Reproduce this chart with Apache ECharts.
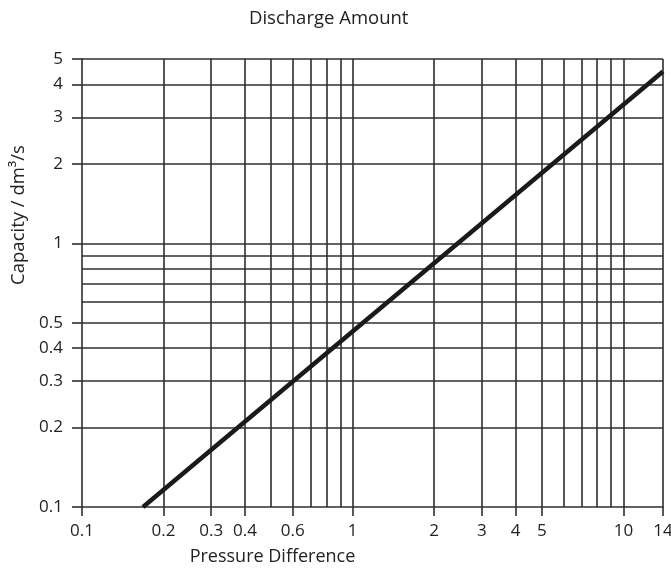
<!DOCTYPE html>
<html>
<head>
<meta charset="utf-8">
<script src="https://cdn.jsdelivr.net/npm/echarts@6/dist/echarts.min.js"></script>
<style>
html,body{margin:0;padding:0;background:#fff;}
#chart{width:671px;height:572px;}
</style>
</head>
<body>
<div id="chart"></div>
<script>
// Data
const pressure = [0.168, 14];
const capacity = [0.1, 4.48];

// Grid lines and tick labels
const xGridValues = [0.2, 0.3, 0.4, 0.5, 0.6, 0.7, 0.8, 0.9, 1, 2, 3, 4, 5, 6, 7, 8, 9, 10, 14];
const xLabelValues = [0.1, 0.2, 0.3, 0.4, 0.6, 1, 2, 3, 4, 5, 10, 14];
const yGridValues = [0.2, 0.3, 0.4, 0.5, 0.6, 0.7, 0.8, 0.9, 1, 2, 3, 4, 5];
const yLabelValues = [0.1, 0.2, 0.3, 0.4, 0.5, 1, 2, 3, 4, 5];

const titleText = 'Discharge Amount';
const xName = 'Pressure Difference';
const yName = 'Capacity / dm\u00B3/s';

const FONT = 'Open Sans';
const INK = '#222';
const GRID_COLOR = '#2e2e2e';

const fmt = v => String(+Number(v).toPrecision(3));

const chart = echarts.init(document.getElementById('chart'), null, {renderer: 'canvas'});
const lineData = pressure.map((p, i) => [p, capacity[i]]);

const option = {
  animation: false,
  backgroundColor: '#fff',
  textStyle: {fontFamily: FONT},
  title: {
    text: titleText,
    left: 244,
    top: 4,
    textStyle: {fontFamily: FONT, fontSize: 18.5, fontWeight: 500, color: INK}
  },
  grid: {left: 82, right: 8, top: 59, bottom: 65, containLabel: false, outerBoundsMode: 'none'},
  xAxis: [
    {
      type: 'log', logBase: 10, min: 0.1, max: 14, position: 'bottom',
      axisLine: {show: true, lineStyle: {color: GRID_COLOR, width: 1.6}},
      axisTick: {show: false, customValues: xGridValues},
      axisLabel: {show: false},
      minorTick: {show: false},
      splitLine: {show: true, lineStyle: {color: GRID_COLOR, width: 1.6}}
    },
    {
      type: 'log', logBase: 10, min: 0.1, max: 14, position: 'bottom', offset: 0,
      axisLine: {show: false},
      axisTick: {show: true, inside: false, length: 9, customValues: xLabelValues, lineStyle: {color: GRID_COLOR, width: 1.6}},
      axisLabel: {show: true, customValues: xLabelValues, formatter: fmt, fontFamily: FONT, fontSize: 17, color: INK, margin: 16, hideOverlap: false},
      splitLine: {show: false},
      name: xName, nameLocation: 'middle', nameGap: 41,
      nameTextStyle: {fontFamily: FONT, fontSize: 18, color: INK, padding: [0, 200, 0, 0]}
    }
  ],
  yAxis: [
    {
      type: 'log', logBase: 10, min: 0.1, max: 5, position: 'left',
      axisLine: {show: true, lineStyle: {color: GRID_COLOR, width: 1.6}},
      axisTick: {show: false, customValues: yGridValues},
      axisLabel: {show: false},
      minorTick: {show: false},
      splitLine: {show: true, lineStyle: {color: GRID_COLOR, width: 1.6}}
    },
    {
      type: 'log', logBase: 10, min: 0.1, max: 5, position: 'left', offset: 0,
      axisLine: {show: false},
      axisTick: {show: true, inside: false, length: 10, customValues: yLabelValues, lineStyle: {color: GRID_COLOR, width: 1.6}},
      axisLabel: {show: true, customValues: yLabelValues, formatter: fmt, fontFamily: FONT, fontSize: 17, color: INK, margin: 19, hideOverlap: false},
      splitLine: {show: false},
      name: yName, nameLocation: 'middle', nameGap: 48, nameRotate: 90,
      nameTextStyle: {fontFamily: FONT, fontSize: 18.5, color: INK, padding: [0, 0, 0, 136]}
    }
  ],
  series: [
    {
      type: 'line',
      xAxisIndex: 0, yAxisIndex: 0,
      data: lineData,
      symbol: 'none',
      lineStyle: {color: '#1a1a1a', width: 4.5},
      z: 5
    }
  ]
};
chart.setOption(option);
</script>
</body>
</html>
